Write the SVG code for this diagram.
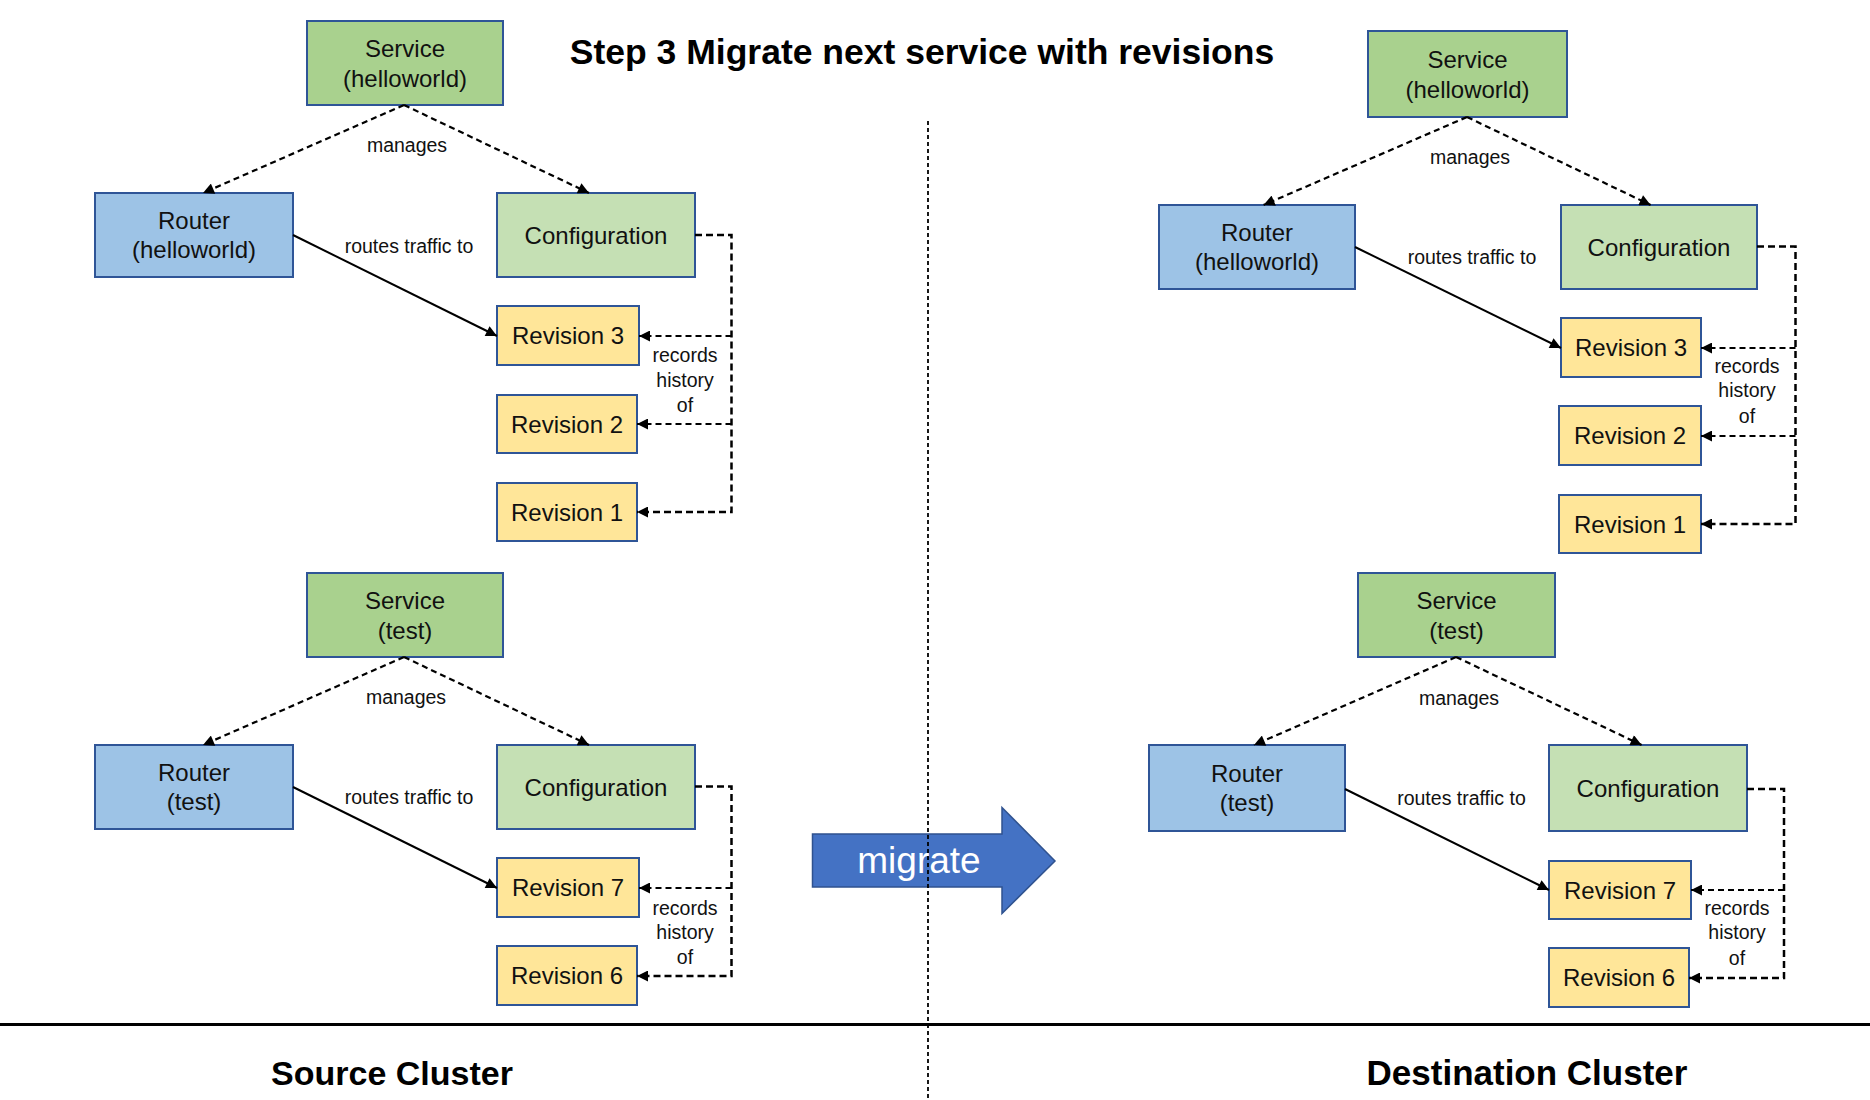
<svg xmlns="http://www.w3.org/2000/svg" width="1870" height="1100" viewBox="0 0 1870 1100">
<defs>
<marker id="ah" viewBox="0 0 10 10" refX="10" refY="5" markerWidth="12" markerHeight="11" markerUnits="userSpaceOnUse" orient="auto">
<path d="M0,0 L10,5 L0,10 z" fill="#000"/>
</marker>
</defs>
<style>
.node rect{stroke:#2F5597;stroke-width:2}
.svc{fill:#A9D18E}
.rtr{fill:#9DC3E6}
.cfg{fill:#C5E0B4}
.rev{fill:#FFE699}
.nt{font-family:"Liberation Sans",Arial,sans-serif;font-size:24px;fill:#111;text-anchor:middle}
.lbl{font-family:"Liberation Sans",Arial,sans-serif;font-size:19.5px;fill:#111;text-anchor:middle}
.ttl{font-family:"Liberation Sans",Arial,sans-serif;font-weight:bold;fill:#000;text-anchor:middle}
.dash{fill:none;stroke:#000;stroke-width:2.2;stroke-dasharray:6 4}
.dash2{fill:none;stroke:#000;stroke-width:2.5;stroke-dasharray:7 4}
.solid{fill:none;stroke:#000;stroke-width:2}
</style>
<rect x="0" y="0" width="1870" height="1100" fill="#fff"/>

<text class="ttl" x="922" y="64" font-size="35.5">Step 3 Migrate next service with revisions</text>

<!-- Source cluster: helloworld -->
<g id="svc-hw-src" class="node"><rect class="svc" x="307" y="21" width="196" height="84"/><text class="nt" x="405" y="56.5">Service</text><text class="nt" x="405" y="86.5">(helloworld)</text></g>
<g id="router-hw-src" class="node"><rect class="rtr" x="95" y="193" width="198" height="84"/><text class="nt" x="194" y="229">Router</text><text class="nt" x="194" y="258">(helloworld)</text></g>
<g id="config-hw-src" class="node"><rect class="cfg" x="497" y="193" width="198" height="84"/><text class="nt" x="596" y="243.5">Configuration</text></g>
<g id="rev3-src" class="node"><rect class="rev" x="497" y="306" width="142" height="59"/><text class="nt" x="568" y="344">Revision 3</text></g>
<g id="rev2-src" class="node"><rect class="rev" x="497" y="395" width="140" height="58"/><text class="nt" x="567" y="432.5">Revision 2</text></g>
<g id="rev1-src" class="node"><rect class="rev" x="497" y="483" width="140" height="58"/><text class="nt" x="567" y="520.5">Revision 1</text></g>

<!-- Source cluster: test -->
<g id="svc-test-src" class="node"><rect class="svc" x="307" y="573" width="196" height="84"/><text class="nt" x="405" y="608.5">Service</text><text class="nt" x="405" y="638.5">(test)</text></g>
<g id="router-test-src" class="node"><rect class="rtr" x="95" y="745" width="198" height="84"/><text class="nt" x="194" y="781">Router</text><text class="nt" x="194" y="810">(test)</text></g>
<g id="config-test-src" class="node"><rect class="cfg" x="497" y="745" width="198" height="84"/><text class="nt" x="596" y="795.5">Configuration</text></g>
<g id="rev7-src" class="node"><rect class="rev" x="497" y="858" width="142" height="59"/><text class="nt" x="568" y="896">Revision 7</text></g>
<g id="rev6-src" class="node"><rect class="rev" x="497" y="946" width="140" height="59"/><text class="nt" x="567" y="984">Revision 6</text></g>

<!-- Destination cluster: helloworld -->
<g id="svc-hw-dst" class="node"><rect class="svc" x="1368" y="31" width="199" height="86"/><text class="nt" x="1467.5" y="67.5">Service</text><text class="nt" x="1467.5" y="97.5">(helloworld)</text></g>
<g id="router-hw-dst" class="node"><rect class="rtr" x="1159" y="205" width="196" height="84"/><text class="nt" x="1257" y="241">Router</text><text class="nt" x="1257" y="270">(helloworld)</text></g>
<g id="config-hw-dst" class="node"><rect class="cfg" x="1561" y="205" width="196" height="84"/><text class="nt" x="1659" y="255.5">Configuration</text></g>
<g id="rev3-dst" class="node"><rect class="rev" x="1561" y="318" width="140" height="59"/><text class="nt" x="1631" y="356">Revision 3</text></g>
<g id="rev2-dst" class="node"><rect class="rev" x="1559" y="406" width="142" height="59"/><text class="nt" x="1630" y="444">Revision 2</text></g>
<g id="rev1-dst" class="node"><rect class="rev" x="1559" y="495" width="142" height="58"/><text class="nt" x="1630" y="532.5">Revision 1</text></g>

<!-- Destination cluster: test -->
<g id="svc-test-dst" class="node"><rect class="svc" x="1358" y="573" width="197" height="84"/><text class="nt" x="1456.5" y="608.5">Service</text><text class="nt" x="1456.5" y="638.5">(test)</text></g>
<g id="router-test-dst" class="node"><rect class="rtr" x="1149" y="745" width="196" height="86"/><text class="nt" x="1247" y="782">Router</text><text class="nt" x="1247" y="811">(test)</text></g>
<g id="config-test-dst" class="node"><rect class="cfg" x="1549" y="745" width="198" height="86"/><text class="nt" x="1648" y="796.5">Configuration</text></g>
<g id="rev7-dst" class="node"><rect class="rev" x="1549" y="861" width="142" height="58"/><text class="nt" x="1620" y="898.5">Revision 7</text></g>
<g id="rev6-dst" class="node"><rect class="rev" x="1549" y="948" width="140" height="59"/><text class="nt" x="1619" y="986">Revision 6</text></g>

<g id="connectors">
<!-- src helloworld -->
<path class="dash" d="M404,105 L203,193" marker-end="url(#ah)"/>
<path class="dash" d="M404,105 L589,193" marker-end="url(#ah)"/>
<path class="solid" d="M293,235 L497,336" marker-end="url(#ah)"/>
<path class="dash2" d="M695,235 H731.5 V512 H637" marker-end="url(#ah)"/>
<path class="dash" d="M731.5,336 H639" marker-end="url(#ah)"/>
<path class="dash" d="M731.5,424 H637" marker-end="url(#ah)"/>
<!-- src test -->
<path class="dash" d="M404,657 L203,745" marker-end="url(#ah)"/>
<path class="dash" d="M404,657 L589,745" marker-end="url(#ah)"/>
<path class="solid" d="M293,787 L497,888" marker-end="url(#ah)"/>
<path class="dash2" d="M695,786.5 H731.5 V976 H637" marker-end="url(#ah)"/>
<path class="dash" d="M731.5,888 H639" marker-end="url(#ah)"/>
<!-- dst helloworld -->
<path class="dash" d="M1467,117 L1263.6,205" marker-end="url(#ah)"/>
<path class="dash" d="M1467,117 L1650.6,205" marker-end="url(#ah)"/>
<path class="solid" d="M1355,247 L1561,348" marker-end="url(#ah)"/>
<path class="dash2" d="M1757,246.5 H1795.5 V524 H1701" marker-end="url(#ah)"/>
<path class="dash" d="M1795.5,348 H1701" marker-end="url(#ah)"/>
<path class="dash" d="M1795.5,436 H1701" marker-end="url(#ah)"/>
<!-- dst test -->
<path class="dash" d="M1456,657 L1254,745" marker-end="url(#ah)"/>
<path class="dash" d="M1456,657 L1641.6,745" marker-end="url(#ah)"/>
<path class="solid" d="M1345,789 L1549,890" marker-end="url(#ah)"/>
<path class="dash2" d="M1747,789 H1784 V978 H1689" marker-end="url(#ah)"/>
<path class="dash" d="M1784,890 H1691" marker-end="url(#ah)"/>

<!-- labels -->
<text class="lbl" x="407" y="151.5">manages</text>
<text class="lbl" x="409" y="252.5">routes traffic to</text>
<text class="lbl" x="685" y="362">records</text>
<text class="lbl" x="685" y="387">history</text>
<text class="lbl" x="685" y="412">of</text>

<text class="lbl" x="406" y="703.5">manages</text>
<text class="lbl" x="409" y="804">routes traffic to</text>
<text class="lbl" x="685" y="915">records</text>
<text class="lbl" x="685" y="939">history</text>
<text class="lbl" x="685" y="964">of</text>

<text class="lbl" x="1470" y="163.5">manages</text>
<text class="lbl" x="1472" y="264">routes traffic to</text>
<text class="lbl" x="1747" y="373">records</text>
<text class="lbl" x="1747" y="397">history</text>
<text class="lbl" x="1747" y="423">of</text>

<text class="lbl" x="1459" y="704.5">manages</text>
<text class="lbl" x="1461.5" y="805">routes traffic to</text>
<text class="lbl" x="1737" y="915">records</text>
<text class="lbl" x="1737" y="939">history</text>
<text class="lbl" x="1737" y="965">of</text>
</g>

<g id="migrate-arrow">
<polygon points="812.5,834 1002,834 1002,807.5 1055,861 1002,913.5 1002,887 812.5,887" fill="#4472C4" stroke="#2F528F" stroke-width="1.5"/>
<text x="919" y="872.5" font-family="Liberation Sans,Arial,sans-serif" font-size="37" fill="#fff" text-anchor="middle">migrate</text>
</g>

<g id="dividers">
<line x1="928" y1="121" x2="928" y2="1100" stroke="#000" stroke-width="1.8" stroke-dasharray="4 3"/>
<line x1="0" y1="1024.5" x2="1870" y2="1024.5" stroke="#000" stroke-width="3"/>
</g>

<text class="ttl" x="392" y="1085" font-size="34">Source Cluster</text>
<text class="ttl" x="1527" y="1085" font-size="35">Destination Cluster</text>
</svg>
